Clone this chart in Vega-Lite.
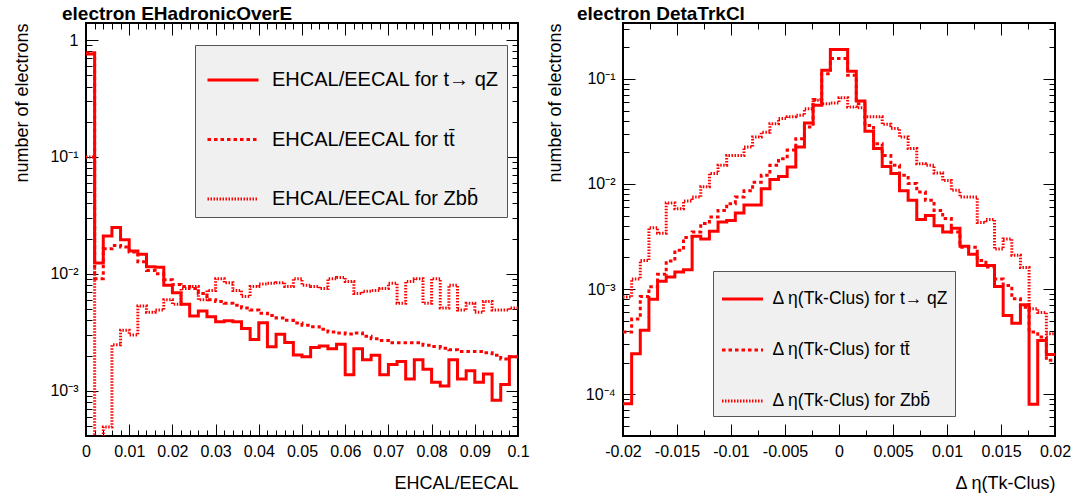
{
  "$schema": "https://vega.github.io/schema/vega-lite/v6.json",
  "background": "white",
  "padding": {"left": 11, "top": 4, "right": 5, "bottom": 5},
  "datasets": {
    "left": [
      {"x": 0.000, "tqZ": 0.76, "tt": 0.78, "Zbb": 0.1},
      {"x": 0.002, "tqZ": 0.0124, "tt": 0.0091, "Zbb": 0.0003},
      {"x": 0.004, "tqZ": 0.0211, "tt": 0.0164, "Zbb": 0.00049},
      {"x": 0.006, "tqZ": 0.0249, "tt": 0.0175, "Zbb": 0.00247},
      {"x": 0.008, "tqZ": 0.0196, "tt": 0.0170, "Zbb": 0.0033},
      {"x": 0.010, "tqZ": 0.0157, "tt": 0.0154, "Zbb": 0.0030},
      {"x": 0.012, "tqZ": 0.0147, "tt": 0.0127, "Zbb": 0.0053},
      {"x": 0.014, "tqZ": 0.0115, "tt": 0.0107, "Zbb": 0.0047},
      {"x": 0.016, "tqZ": 0.0114, "tt": 0.0100, "Zbb": 0.0049},
      {"x": 0.018, "tqZ": 0.0080, "tt": 0.0089, "Zbb": 0.0060},
      {"x": 0.020, "tqZ": 0.0069, "tt": 0.0081, "Zbb": 0.0055},
      {"x": 0.022, "tqZ": 0.0055, "tt": 0.0078, "Zbb": 0.0075},
      {"x": 0.024, "tqZ": 0.00435, "tt": 0.0075, "Zbb": 0.0078},
      {"x": 0.026, "tqZ": 0.0048, "tt": 0.0068, "Zbb": 0.0060},
      {"x": 0.028, "tqZ": 0.00429, "tt": 0.0060, "Zbb": 0.0072},
      {"x": 0.030, "tqZ": 0.00389, "tt": 0.0058, "Zbb": 0.0091},
      {"x": 0.032, "tqZ": 0.00397, "tt": 0.0056, "Zbb": 0.0084},
      {"x": 0.034, "tqZ": 0.00389, "tt": 0.0054, "Zbb": 0.0072},
      {"x": 0.036, "tqZ": 0.00341, "tt": 0.0051, "Zbb": 0.0064},
      {"x": 0.038, "tqZ": 0.00274, "tt": 0.0049, "Zbb": 0.0078},
      {"x": 0.040, "tqZ": 0.00381, "tt": 0.0046, "Zbb": 0.0082},
      {"x": 0.042, "tqZ": 0.00238, "tt": 0.0044, "Zbb": 0.0083},
      {"x": 0.044, "tqZ": 0.00305, "tt": 0.0042, "Zbb": 0.0084},
      {"x": 0.046, "tqZ": 0.00259, "tt": 0.0040, "Zbb": 0.0078},
      {"x": 0.048, "tqZ": 0.00202, "tt": 0.0038, "Zbb": 0.0091},
      {"x": 0.050, "tqZ": 0.00195, "tt": 0.00364, "Zbb": 0.0080},
      {"x": 0.052, "tqZ": 0.00234, "tt": 0.00353, "Zbb": 0.0078},
      {"x": 0.054, "tqZ": 0.00242, "tt": 0.00335, "Zbb": 0.0075},
      {"x": 0.056, "tqZ": 0.00229, "tt": 0.00318, "Zbb": 0.0091},
      {"x": 0.058, "tqZ": 0.00250, "tt": 0.00312, "Zbb": 0.0093},
      {"x": 0.060, "tqZ": 0.00137, "tt": 0.00306, "Zbb": 0.0086},
      {"x": 0.062, "tqZ": 0.00229, "tt": 0.00312, "Zbb": 0.0068},
      {"x": 0.064, "tqZ": 0.00184, "tt": 0.00292, "Zbb": 0.0071},
      {"x": 0.066, "tqZ": 0.00201, "tt": 0.00278, "Zbb": 0.0072},
      {"x": 0.068, "tqZ": 0.00137, "tt": 0.00269, "Zbb": 0.0075},
      {"x": 0.070, "tqZ": 0.00168, "tt": 0.00257, "Zbb": 0.0083},
      {"x": 0.072, "tqZ": 0.00178, "tt": 0.00257, "Zbb": 0.0056},
      {"x": 0.074, "tqZ": 0.00126, "tt": 0.00257, "Zbb": 0.0086},
      {"x": 0.076, "tqZ": 0.00184, "tt": 0.00257, "Zbb": 0.0091},
      {"x": 0.078, "tqZ": 0.00153, "tt": 0.00245, "Zbb": 0.0056},
      {"x": 0.080, "tqZ": 0.00118, "tt": 0.00239, "Zbb": 0.0091},
      {"x": 0.082, "tqZ": 0.00110, "tt": 0.00231, "Zbb": 0.0051},
      {"x": 0.084, "tqZ": 0.00184, "tt": 0.00224, "Zbb": 0.0080},
      {"x": 0.086, "tqZ": 0.00126, "tt": 0.00217, "Zbb": 0.0049},
      {"x": 0.088, "tqZ": 0.00148, "tt": 0.00217, "Zbb": 0.0056},
      {"x": 0.090, "tqZ": 0.00118, "tt": 0.00217, "Zbb": 0.0047},
      {"x": 0.092, "tqZ": 0.00139, "tt": 0.00211, "Zbb": 0.0058},
      {"x": 0.094, "tqZ": 0.00083, "tt": 0.00201, "Zbb": 0.0049},
      {"x": 0.096, "tqZ": 0.00113, "tt": 0.00187, "Zbb": 0.0049},
      {"x": 0.098, "tqZ": 0.00195, "tt": 0.00195, "Zbb": 0.0051},
      {"x": 0.100, "tqZ": 0.00195, "tt": 0.00195, "Zbb": 0.0051}
    ],
    "right": [
      {"x": -0.0200, "tqZ": 0.000081, "tt": 0.00039, "Zbb": 0.00084},
      {"x": -0.0192, "tqZ": 0.000242, "tt": 0.00052, "Zbb": 0.00125},
      {"x": -0.0184, "tqZ": 0.000405, "tt": 0.00085, "Zbb": 0.00187},
      {"x": -0.0176, "tqZ": 0.000798, "tt": 0.00105, "Zbb": 0.00384},
      {"x": -0.0168, "tqZ": 0.00119, "tt": 0.00138, "Zbb": 0.0034},
      {"x": -0.0160, "tqZ": 0.00130, "tt": 0.00185, "Zbb": 0.0066},
      {"x": -0.0152, "tqZ": 0.00145, "tt": 0.00234, "Zbb": 0.0058},
      {"x": -0.0144, "tqZ": 0.00153, "tt": 0.0031, "Zbb": 0.0069},
      {"x": -0.0136, "tqZ": 0.00318, "tt": 0.0035, "Zbb": 0.0075},
      {"x": -0.0128, "tqZ": 0.0030, "tt": 0.0042, "Zbb": 0.0094},
      {"x": -0.0120, "tqZ": 0.00354, "tt": 0.00485, "Zbb": 0.0126},
      {"x": -0.0112, "tqZ": 0.00435, "tt": 0.0056, "Zbb": 0.0151},
      {"x": -0.0104, "tqZ": 0.0045, "tt": 0.0065, "Zbb": 0.0187},
      {"x": -0.0096, "tqZ": 0.0053, "tt": 0.0075, "Zbb": 0.0187},
      {"x": -0.0088, "tqZ": 0.0063, "tt": 0.0086, "Zbb": 0.0225},
      {"x": -0.0080, "tqZ": 0.0063, "tt": 0.0104, "Zbb": 0.028},
      {"x": -0.0072, "tqZ": 0.0090, "tt": 0.0121, "Zbb": 0.031},
      {"x": -0.0064, "tqZ": 0.0110, "tt": 0.0151, "Zbb": 0.0375},
      {"x": -0.0056, "tqZ": 0.0118, "tt": 0.0174, "Zbb": 0.042},
      {"x": -0.0048, "tqZ": 0.0145, "tt": 0.021, "Zbb": 0.0435},
      {"x": -0.0040, "tqZ": 0.0225, "tt": 0.027, "Zbb": 0.045},
      {"x": -0.0032, "tqZ": 0.038, "tt": 0.0349, "Zbb": 0.052},
      {"x": -0.0024, "tqZ": 0.056, "tt": 0.0636, "Zbb": 0.0627},
      {"x": -0.0016, "tqZ": 0.121, "tt": 0.112, "Zbb": 0.058},
      {"x": -0.0008, "tqZ": 0.19, "tt": 0.156, "Zbb": 0.059},
      {"x": 0.0000, "tqZ": 0.19, "tt": 0.156, "Zbb": 0.066},
      {"x": 0.0008, "tqZ": 0.118, "tt": 0.108, "Zbb": 0.054},
      {"x": 0.0016, "tqZ": 0.0617, "tt": 0.058, "Zbb": 0.053},
      {"x": 0.0024, "tqZ": 0.0318, "tt": 0.036, "Zbb": 0.0435},
      {"x": 0.0032, "tqZ": 0.0217, "tt": 0.0242, "Zbb": 0.0435},
      {"x": 0.0040, "tqZ": 0.0147, "tt": 0.0187, "Zbb": 0.037},
      {"x": 0.0048, "tqZ": 0.0126, "tt": 0.0151, "Zbb": 0.0337},
      {"x": 0.0056, "tqZ": 0.0086, "tt": 0.0121, "Zbb": 0.028},
      {"x": 0.0064, "tqZ": 0.0070, "tt": 0.0101, "Zbb": 0.0217},
      {"x": 0.0072, "tqZ": 0.0046, "tt": 0.0084, "Zbb": 0.0156},
      {"x": 0.0080, "tqZ": 0.0050, "tt": 0.0070, "Zbb": 0.0151},
      {"x": 0.0088, "tqZ": 0.0040, "tt": 0.0056, "Zbb": 0.0127},
      {"x": 0.0096, "tqZ": 0.0035, "tt": 0.0047, "Zbb": 0.0108},
      {"x": 0.0104, "tqZ": 0.0038, "tt": 0.0035, "Zbb": 0.0087},
      {"x": 0.0112, "tqZ": 0.00255, "tt": 0.0025, "Zbb": 0.0075},
      {"x": 0.0120, "tqZ": 0.00214, "tt": 0.0025, "Zbb": 0.0075},
      {"x": 0.0128, "tqZ": 0.00168, "tt": 0.00187, "Zbb": 0.0043},
      {"x": 0.0136, "tqZ": 0.00168, "tt": 0.00162, "Zbb": 0.0046},
      {"x": 0.0144, "tqZ": 0.00106, "tt": 0.00125, "Zbb": 0.0024},
      {"x": 0.0152, "tqZ": 0.00056, "tt": 0.00108, "Zbb": 0.0030},
      {"x": 0.0160, "tqZ": 0.000474, "tt": 0.00081, "Zbb": 0.0021},
      {"x": 0.0168, "tqZ": 0.00071, "tt": 0.00067, "Zbb": 0.0016},
      {"x": 0.0176, "tqZ": 0.000080, "tt": 0.00039, "Zbb": 0.00065},
      {"x": 0.0184, "tqZ": 0.000324, "tt": 0.00035, "Zbb": 0.00060},
      {"x": 0.0192, "tqZ": 0.000239, "tt": 0.00021, "Zbb": 0.000375},
      {"x": 0.0200, "tqZ": 0.000239, "tt": 0.00021, "Zbb": 0.000375}
    ]
  },
  "spacing": 105,
  "bounds": "flush",
  "resolve": {"scale": {"strokeDash": "independent", "strokeWidth": "independent"}, "legend": {"strokeDash": "independent"}},
  "hconcat": [
    {
      "width": 432,
      "height": 413,
      "title": {"text": "electron EHadronicOverE", "anchor": "start", "align": "left", "frame": "group", "dx": -24, "offset": -1.5, "fontSize": 19, "fontWeight": "bold", "font": "Liberation Sans"},
      "data": {"name": "left"},
      "transform": [{"fold": ["tqZ", "tt", "Zbb"], "as": ["s", "y"]}],
      "resolve": {"axis": {"x": "independent", "y": "independent"}},
      "layer": [
        {
          "mark": {"type": "line", "interpolate": "step-after", "clip": true, "color": "#ff0000"},
          "encoding": {
            "x": {"field": "x", "type": "quantitative", "scale": {"domain": [0, 0.1], "nice": false, "zero": false},
              "axis": {"orient": "bottom", "offset": -12, "values": [0, 0.01, 0.02, 0.03, 0.04, 0.05, 0.06, 0.07, 0.08, 0.09, 0.1], "tickSize": 12, "labelPadding": 7, "labelExpr": "toString(datum.value)", "labelFlush": false, "labelOverlap": false, "title": "EHCAL/EECAL", "titleAnchor": "end", "titleY": 64, "titleBaseline": "alphabetic"}},
            "y": {"field": "y", "type": "quantitative", "scale": {"type": "log", "domain": [0.00041, 1.4], "nice": false},
              "axis": {"orient": "left", "offset": -12, "values": [0.001, 0.01, 0.1, 1], "tickSize": 12, "labelPadding": 8, "labelExpr": "datum.value == 1 ? '1' : datum.value == 0.1 ? '10⁻¹' : datum.value == 0.01 ? '10⁻²' : '10⁻³'", "labelFlush": false, "labelOverlap": false, "title": "number of electrons", "titleAnchor": "end", "titleX": -67}},
            "strokeDash": {"field": "s", "type": "nominal", "scale": {"domain": ["tqZ", "tt", "Zbb"], "range": [[1, 0], [3.5, 3], [1.5, 1.5]]},
              "legend": {"title": null, "orient": "none", "legendX": 109, "legendY": 22, "fillColor": "#f0f0f0", "strokeColor": "#555555", "padding": 8, "symbolType": "stroke", "symbolSize": 2601, "symbolStrokeWidth": 3, "symbolOffset": 3, "symbolStrokeColor": "#ff0000", "labelFontSize": 20, "labelOffset": 12, "rowPadding": 22.5, "labelLimit": 500, "labelExpr": "datum.label == 'tqZ' ? 'EHCAL/EECAL for t→ qZ' : datum.label == 'tt' ? 'EHCAL/EECAL for tt̄' : 'EHCAL/EECAL for Zbb̄'"}},
            "strokeWidth": {"field": "s", "type": "nominal", "scale": {"domain": ["tqZ", "tt", "Zbb"], "range": [3, 3, 2]}, "legend": null}
          }
        },
        {
          "mark": {"type": "line", "opacity": 0},
          "encoding": {
            "x": {"field": "x", "type": "quantitative", "scale": {"domain": [0, 0.1], "nice": false, "zero": false},
              "axis": {"orient": "bottom", "offset": -6, "values": [0.002,0.004,0.006,0.008,0.012,0.014,0.016,0.018,0.022,0.024,0.026,0.028,0.032,0.034,0.036,0.038,0.042,0.044,0.046,0.048,0.052,0.054,0.056,0.058,0.062,0.064,0.066,0.068,0.072,0.074,0.076,0.078,0.082,0.084,0.086,0.088,0.092,0.094,0.096,0.098], "tickSize": 6, "labels": false, "title": null}},
            "y": {"field": "y", "type": "quantitative", "scale": {"type": "log", "domain": [0.00041, 1.4], "nice": false},
              "axis": {"orient": "left", "offset": -6, "values": [0.0005,0.0006,0.0007,0.0008,0.0009,0.002,0.003,0.004,0.005,0.006,0.007,0.008,0.009,0.02,0.03,0.04,0.05,0.06,0.07,0.08,0.09,0.2,0.3,0.4,0.5,0.6,0.7,0.8,0.9], "tickSize": 6, "labels": false, "title": null}}
          }
        },
        {
          "mark": {"type": "line", "opacity": 0},
          "encoding": {
            "x": {"field": "x", "type": "quantitative", "scale": {"domain": [0, 0.1], "nice": false, "zero": false},
              "axis": {"orient": "top", "offset": -12, "values": [0, 0.01, 0.02, 0.03, 0.04, 0.05, 0.06, 0.07, 0.08, 0.09, 0.1], "tickSize": 12, "labels": false, "title": null}},
            "y": {"field": "y", "type": "quantitative", "scale": {"type": "log", "domain": [0.00041, 1.4], "nice": false},
              "axis": {"orient": "right", "offset": -12, "values": [0.001, 0.01, 0.1, 1], "tickSize": 12, "labels": false, "title": null}}
          }
        },
        {
          "mark": {"type": "line", "opacity": 0},
          "encoding": {
            "x": {"field": "x", "type": "quantitative", "scale": {"domain": [0, 0.1], "nice": false, "zero": false},
              "axis": {"orient": "top", "offset": -6, "values": [0.002,0.004,0.006,0.008,0.012,0.014,0.016,0.018,0.022,0.024,0.026,0.028,0.032,0.034,0.036,0.038,0.042,0.044,0.046,0.048,0.052,0.054,0.056,0.058,0.062,0.064,0.066,0.068,0.072,0.074,0.076,0.078,0.082,0.084,0.086,0.088,0.092,0.094,0.096,0.098], "tickSize": 6, "labels": false, "title": null}},
            "y": {"field": "y", "type": "quantitative", "scale": {"type": "log", "domain": [0.00041, 1.4], "nice": false},
              "axis": {"orient": "right", "offset": -6, "values": [0.0005,0.0006,0.0007,0.0008,0.0009,0.002,0.003,0.004,0.005,0.006,0.007,0.008,0.009,0.02,0.03,0.04,0.05,0.06,0.07,0.08,0.09,0.2,0.3,0.4,0.5,0.6,0.7,0.8,0.9], "tickSize": 6, "labels": false, "title": null}}
          }
        }
      ]
    },
    {
      "width": 432,
      "height": 413,
      "title": {"text": "electron DetaTrkCl", "anchor": "start", "align": "left", "frame": "group", "dx": -46, "offset": -1.5, "fontSize": 19, "fontWeight": "bold", "font": "Liberation Sans"},
      "data": {"name": "right"},
      "transform": [{"fold": ["tqZ", "tt", "Zbb"], "as": ["s", "y"]}],
      "resolve": {"axis": {"x": "independent", "y": "independent"}},
      "layer": [
        {
          "mark": {"type": "line", "interpolate": "step-after", "clip": true, "color": "#ff0000"},
          "encoding": {
            "x": {"field": "x", "type": "quantitative", "scale": {"domain": [-0.02, 0.02], "nice": false, "zero": false},
              "axis": {"orient": "bottom", "offset": -12, "values": [-0.02, -0.015, -0.01, -0.005, 0, 0.005, 0.01, 0.015, 0.02], "tickSize": 12, "labelPadding": 7, "labelExpr": "toString(datum.value)", "labelFlush": false, "labelOverlap": false, "title": "Δ η(Tk-Clus)", "titleAnchor": "end", "titleY": 64, "titleBaseline": "alphabetic"}},
            "y": {"field": "y", "type": "quantitative", "scale": {"type": "log", "domain": [0.00004, 0.34], "nice": false},
              "axis": {"orient": "left", "offset": -12, "values": [0.0001, 0.001, 0.01, 0.1], "tickSize": 12, "labelPadding": 8, "labelExpr": "datum.value == 0.1 ? '10⁻¹' : datum.value == 0.01 ? '10⁻²' : datum.value == 0.001 ? '10⁻³' : '10⁻⁴'", "labelFlush": false, "labelOverlap": false, "title": "number of electrons", "titleAnchor": "end", "titleX": -71}},
            "strokeDash": {"field": "s", "type": "nominal", "scale": {"domain": ["tqZ", "tt", "Zbb"], "range": [[1, 0], [3.5, 3], [1.5, 1.5]]},
              "legend": {"title": null, "orient": "none", "legendX": 90, "legendY": 248, "fillColor": "#f0f0f0", "strokeColor": "#555555", "padding": 6, "symbolType": "stroke", "symbolSize": 1681, "symbolStrokeWidth": 3, "symbolOffset": 1.5, "symbolStrokeColor": "#ff0000", "labelFontSize": 17.5, "labelOffset": 8, "rowPadding": 20, "labelLimit": 500, "labelExpr": "datum.label == 'tqZ' ? 'Δ η(Tk-Clus) for t→ qZ' : datum.label == 'tt' ? 'Δ η(Tk-Clus) for tt̄' : 'Δ η(Tk-Clus) for Zbb̄'"}},
            "strokeWidth": {"field": "s", "type": "nominal", "scale": {"domain": ["tqZ", "tt", "Zbb"], "range": [3, 3, 2]}, "legend": null}
          }
        },
        {
          "mark": {"type": "line", "opacity": 0},
          "encoding": {
            "x": {"field": "x", "type": "quantitative", "scale": {"domain": [-0.02, 0.02], "nice": false, "zero": false},
              "axis": {"orient": "bottom", "offset": -6, "values": [-0.0175, -0.0125, -0.0075, -0.0025, 0.0025, 0.0075, 0.0125, 0.0175], "tickSize": 6, "labels": false, "title": null}},
            "y": {"field": "y", "type": "quantitative", "scale": {"type": "log", "domain": [0.00004, 0.34], "nice": false},
              "axis": {"orient": "left", "offset": -6, "values": [0.00005,0.00006,0.00007,0.00008,0.00009,0.0002,0.0003,0.0004,0.0005,0.0006,0.0007,0.0008,0.0009,0.002,0.003,0.004,0.005,0.006,0.007,0.008,0.009,0.02,0.03,0.04,0.05,0.06,0.07,0.08,0.09,0.2,0.3], "tickSize": 6, "labels": false, "title": null}}
          }
        },
        {
          "mark": {"type": "line", "opacity": 0},
          "encoding": {
            "x": {"field": "x", "type": "quantitative", "scale": {"domain": [-0.02, 0.02], "nice": false, "zero": false},
              "axis": {"orient": "top", "offset": -12, "values": [-0.02, -0.015, -0.01, -0.005, 0, 0.005, 0.01, 0.015, 0.02], "tickSize": 12, "labels": false, "title": null}},
            "y": {"field": "y", "type": "quantitative", "scale": {"type": "log", "domain": [0.00004, 0.34], "nice": false},
              "axis": {"orient": "right", "offset": -12, "values": [0.0001, 0.001, 0.01, 0.1], "tickSize": 12, "labels": false, "title": null}}
          }
        },
        {
          "mark": {"type": "line", "opacity": 0},
          "encoding": {
            "x": {"field": "x", "type": "quantitative", "scale": {"domain": [-0.02, 0.02], "nice": false, "zero": false},
              "axis": {"orient": "top", "offset": -6, "values": [-0.0175, -0.0125, -0.0075, -0.0025, 0.0025, 0.0075, 0.0125, 0.0175], "tickSize": 6, "labels": false, "title": null}},
            "y": {"field": "y", "type": "quantitative", "scale": {"type": "log", "domain": [0.00004, 0.34], "nice": false},
              "axis": {"orient": "right", "offset": -6, "values": [0.00005,0.00006,0.00007,0.00008,0.00009,0.0002,0.0003,0.0004,0.0005,0.0006,0.0007,0.0008,0.0009,0.002,0.003,0.004,0.005,0.006,0.007,0.008,0.009,0.02,0.03,0.04,0.05,0.06,0.07,0.08,0.09,0.2,0.3], "tickSize": 6, "labels": false, "title": null}}
          }
        }
      ]
    }
  ],
  "config": {
    "font": "Liberation Sans",
    "view": {"stroke": "black", "strokeWidth": 2},
    "axis": {"domain": false, "grid": false, "labelFont": "Liberation Sans", "labelFontSize": 16, "labelColor": "black", "titleFont": "Liberation Sans", "titleFontSize": 18, "titleFontWeight": "normal", "titleColor": "black", "tickColor": "black", "tickWidth": 1},
    "legend": {"labelFont": "Liberation Sans", "labelColor": "black"},
    "title": {"font": "Liberation Sans", "fontSize": 19, "fontWeight": "bold", "color": "black", "baseline": "alphabetic"}
  }
}
